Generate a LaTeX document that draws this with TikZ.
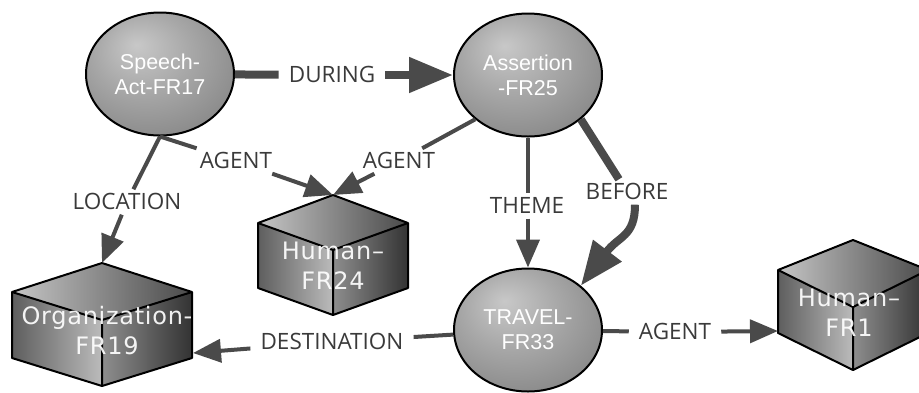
\documentclass[tikz,border=0pt]{standalone}
\usepackage{fontspec}
\setmainfont{Open Sans}
\newfontfamily\ellfont{Liberation Sans}
\newfontfamily\cubefont[LetterSpace=3]{DejaVu Sans}
\usetikzlibrary{arrows.meta,shapes.geometric}
\definecolor{linec}{HTML}{4A4A4A}
\definecolor{labc}{HTML}{3A3A3A}
\definecolor{ecA}{HTML}{C8C8C8}
\definecolor{ecB}{HTML}{A8A8A8}
\definecolor{ecC}{HTML}{808080}
\definecolor{ecD}{HTML}{505050}
\definecolor{cTopL}{HTML}{C6C6C6}
\definecolor{cTopR}{HTML}{4A4A4A}
\definecolor{cLeftL}{HTML}{5E5E5E}
\definecolor{cLeftR}{HTML}{BBBBBB}
\definecolor{cRightL}{HTML}{8E8E8E}
\definecolor{cRightR}{HTML}{333333}
\pgfdeclareradialshading{ellshade}{\pgfpoint{-8bp}{12bp}}{color(0bp)=(ecA); color(16bp)=(ecB); color(38bp)=(ecC); color(50bp)=(ecD); color(60bp)=(ecD)}
\newcommand{\cubeshape}[7]{%
  \coordinate (#1-t) at (#2,#3);
  \coordinate (#1-l) at (#2-#4,#3+#5);
  \coordinate (#1-r) at (#2+#4,#3+#5);
  \coordinate (#1-i) at (#2,#3+#6);
  \coordinate (#1-bl) at (#2-#4,#3+#5+#7);
  \coordinate (#1-br) at (#2+#4,#3+#5+#7);
  \coordinate (#1-b) at (#2,#3+#6+#7);
  \shade[left color=cTopL,right color=cTopR] (#1-t)--(#1-r)--(#1-i)--(#1-l)--cycle;
  \shade[left color=cLeftL,right color=cLeftR] (#1-l)--(#1-i)--(#1-b)--(#1-bl)--cycle;
  \shade[left color=cRightL,right color=cRightR] (#1-i)--(#1-r)--(#1-br)--(#1-b)--cycle;
  \draw[cubeedge] (#1-t)--(#1-r)--(#1-br)--(#1-b)--(#1-bl)--(#1-l)--cycle;
  \draw[cubeedge] (#1-l)--(#1-i)--(#1-r) (#1-i)--(#1-b);
}
\begin{document}
\begin{tikzpicture}[x=1pt,y=-1pt,
  ell/.style={ellipse, draw=black, line width=2pt, shading=ellshade,
    minimum width=148pt, minimum height=123pt, inner sep=0pt,
    text=white, align=center, font=\ellfont\fontsize{21.5}{25}\selectfont},
  cubeedge/.style={draw=black, line width=2pt, line join=round},
  cubetxt/.style={text=white, text opacity=0.92, align=center, inner sep=0pt,
    font=\cubefont\fontsize{24}{30}\selectfont},
  lab/.style={text=labc, inner xsep=10pt, inner ysep=5pt, text height=15pt, text depth=0pt,
    font=\fontsize{22.5}{26}\selectfont},
  conn/.style={draw=linec, line width=4pt},
  thickconn/.style={draw=linec, line width=8pt},
  tipS/.style={-{Triangle[length=28pt,width=23pt]}},
  tipL/.style={-{Triangle[length=44pt,width=34pt]}}
]
\useasboundingbox (0,0) rectangle (919,392);
\clip (0,0) rectangle (919,392);

% cubes
\cubeshape{h24}{333}{195}{75}{28}{55}{65}
\cubeshape{org}{102}{263}{90}{29}{57}{66}
\cubeshape{fr1}{853}{240}{75}{30}{67}{63}
\node[cubetxt] (h24txt) at (333,266) {Human–\\FR24};
\node[cubetxt] (orgtxt) at (107,331) {Organization-\\FR19};
\node[cubetxt] (fr1txt) at (849,313) {Human–\\FR1};
\coordinate (orgdest) at (193,353);
\coordinate (fr1agent) at (778,331);

% ellipses
\node[ell] (speech) at (160,74) {Speech-\\Act-FR17};
\node[ell] (assertion) at (528,75) {Assertion\\-FR25};
\node[ell] (travel) at (528,330) {TRAVEL-\\FR33};

% labels
\node[lab] (during) at (332,75) {DURING};
\node[lab] (agentA) at (236,161) {AGENT};
\node[lab] (agentB) at (399,161) {AGENT};
\node[lab] (location) at (127,202) {LOCATION};
\node[lab] (theme) at (527,206) {THEME};
\node[lab] (before) at (627,192) {BEFORE};
\node[lab] (dest) at (332,342) {DESTINATION};
\node[lab] (agentC) at (675,332) {AGENT};

% connectors
\draw[thickconn] (speech) -- (during);
\draw[thickconn,tipL] (during) -- (assertion);
\draw[conn] (speech.south) -- (agentA);
\draw[conn,tipS] (agentA) -- (h24-t);
\draw[conn] (assertion.220) -- (agentB);
\draw[conn,tipS] (agentB) -- (h24-t);
\draw[conn] (speech.south) -- (location);
\draw[conn,tipS] (location) -- (org-t);
\draw[conn] (assertion.south) -- (assertion.south |- theme.north);
\draw[conn,tipS] (theme.south -| travel.north) -- (travel.north);
\draw[thickconn] (assertion.-40) -- (before);
\draw[thickconn,tipL] ([xshift=8pt]before.south) .. controls +(0,32) and +(38,-50) .. (travel.40);
\draw[conn] (travel) -- (dest);
\draw[conn,tipS] (dest) -- (orgdest);
\draw[conn] (travel) -- (agentC);
\draw[conn,tipS] (agentC) -- (fr1agent);
\end{tikzpicture}
\end{document}
